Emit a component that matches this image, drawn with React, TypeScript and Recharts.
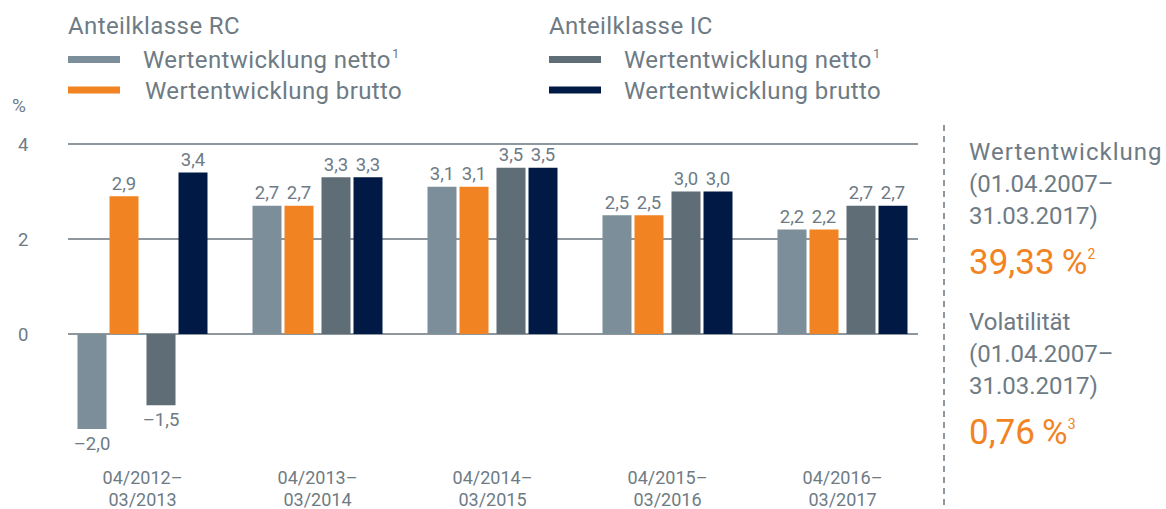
import React from "react";
import { BarChart, Bar, XAxis, YAxis, CartesianGrid } from "recharts";

// Wertentwicklung je Anteilklasse, Angaben in %
const periods = [
  "04/2012–\n03/2013",
  "04/2013–\n03/2014",
  "04/2014–\n03/2015",
  "04/2015–\n03/2016",
  "04/2016–\n03/2017",
];
const rcNetto = [-2.0, 2.7, 3.1, 2.5, 2.2];
const rcBrutto = [2.9, 2.7, 3.1, 2.5, 2.2];
const icNetto = [-1.5, 3.3, 3.5, 3.0, 2.7];
const icBrutto = [3.4, 3.3, 3.5, 3.0, 2.7];
const yTicks = [0, 2, 4];

const data = periods.map((period, i) => ({
  period,
  rcNetto: rcNetto[i],
  rcBrutto: rcBrutto[i],
  icNetto: icNetto[i],
  icBrutto: icBrutto[i],
}));

const FONT = "Roboto, 'Liberation Sans', sans-serif";
const WEIGHT = 400;
const TEXT = "#6e7b84";
const GRID = "#8d979d";
const ORANGE = "#f28322";

const COLORS = {
  rcNetto: "#7b8e9a",
  rcBrutto: ORANGE,
  icNetto: "#5f6d77",
  icBrutto: "#001a45",
};

const fmt = (v: number) => (v < 0 ? "–" : "") + Math.abs(v).toFixed(1).replace(".", ",");

// bar + value label; pairs are nudged apart a little like in the print version
function makeShape(key: string, fill: string, shift: number) {
  return (props: any) => {
    const { x, y, width, height, payload } = props;
    const v = payload[key];
    const top = height < 0 ? y + height : y;
    const h = Math.abs(height);
    const bx = x + shift;
    const ly = v >= 0 ? top - 13 : top + h + 14;
    return (
      <g>
        <rect x={bx} y={top} width={width} height={h} fill={fill} />
        <text
          x={bx + width / 2}
          y={ly}
          dy="0.355em"
          textAnchor="middle"
          fontFamily={FONT}
          fontWeight={WEIGHT}
          fontSize={18.5}
          fill={TEXT}
        >
          {fmt(v)}
        </text>
      </g>
    );
  };
}

const PeriodTick = (props: any) => {
  const { x, y, payload } = props;
  const lines = String(payload.value).split("\n");
  return (
    <g>
      {lines.map((line, i) => (
        <text
          key={i}
          x={x}
          y={y + 49 + i * 22}
          dy="0.355em"
          textAnchor="middle"
          fontFamily={FONT}
          fontWeight={WEIGHT}
          fontSize={18}
          fill={TEXT}
        >
          {line}
        </text>
      ))}
    </g>
  );
};

const ValueTick = (props: any) => {
  const { y, payload } = props;
  return (
    <text x={18} y={y} dy="0.355em" fontFamily={FONT} fontWeight={WEIGHT} fontSize={18.5} fill={TEXT}>
      {payload.value}
    </text>
  );
};

const GridLine = (props: any) => (
  <line
    key={props.key}
    x1={props.x1 + 13}
    x2={props.x2 - 12}
    y1={props.y1}
    y2={props.y2}
    stroke={GRID}
    strokeWidth={2}
  />
);

function LegendBlock({ x, title, items }: { x: number; title: string; items: { color: string; label: string; sup?: string; tx: number }[] }) {
  return (
    <g>
      <text x={x} y={25} dy="0.355em" fontSize={24} letterSpacing={0.4} fill={TEXT}>
        {title}
      </text>
      {items.map((it, i) => (
        <g key={i}>
          <rect x={x} y={56 + i * 30.5} width={52} height={7} fill={it.color} />
          <text x={it.tx} y={59.5 + i * 30.5} dy="0.355em" fontSize={24} letterSpacing={0.4} fill={TEXT}>
            {it.label}
            {it.sup && (
              <tspan fontSize={13} dy="-0.8em" dx={1}>
                {it.sup}
              </tspan>
            )}
          </text>
        </g>
      ))}
    </g>
  );
}

export default function App() {
  return (
    <div style={{ position: "absolute", left: 0, top: 0, width: 1166, height: 509, background: "#fff" }}>
      <BarChart
        width={1166}
        height={509}
        data={data}
        margin={{ top: 144, right: 236, bottom: 20, left: 0 }}
        barSize={29}
        barGap={3}
      >
        <CartesianGrid vertical={false} horizontal={GridLine} horizontalValues={yTicks} />
        <XAxis
          dataKey="period"
          axisLine={false}
          tickLine={false}
          tickSize={0}
          tickMargin={0}
          height={60}
          interval={0}
          tick={PeriodTick}
        />
        <YAxis
          type="number"
          domain={[-2, 4]}
          ticks={yTicks}
          interval={0}
          width={55}
          axisLine={false}
          tickLine={false}
          tick={ValueTick}
        />
        <Bar dataKey="rcNetto" isAnimationActive={false} shape={makeShape("rcNetto", COLORS.rcNetto, -2.5)} />
        <Bar dataKey="rcBrutto" isAnimationActive={false} shape={makeShape("rcBrutto", COLORS.rcBrutto, -2.5)} />
        <Bar dataKey="icNetto" isAnimationActive={false} shape={makeShape("icNetto", COLORS.icNetto, 2.5)} />
        <Bar dataKey="icBrutto" isAnimationActive={false} shape={makeShape("icBrutto", COLORS.icBrutto, 2.5)} />
      </BarChart>

      <svg
        width={1166}
        height={509}
        style={{ position: "absolute", left: 0, top: 0, pointerEvents: "none" }}
        fontFamily={FONT}
        fontWeight={WEIGHT}
      >
        <LegendBlock
          x={68}
          title="Anteilklasse RC"
          items={[
            { color: COLORS.rcNetto, label: "Wertentwicklung netto", sup: "1", tx: 143 },
            { color: COLORS.rcBrutto, label: "Wertentwicklung brutto", tx: 145 },
          ]}
        />
        <LegendBlock
          x={549}
          title="Anteilklasse IC"
          items={[
            { color: COLORS.icNetto, label: "Wertentwicklung netto", sup: "1", tx: 624 },
            { color: COLORS.icBrutto, label: "Wertentwicklung brutto", tx: 624 },
          ]}
        />
        <text x={12} y={105} dy="0.355em" fontSize={19} fill={TEXT}>
          %
        </text>

        <line x1={944} x2={944} y1={125} y2={509} stroke={GRID} strokeWidth={2} strokeDasharray="6 5" />

        <g fontSize={24} fill={TEXT}>
          <text x={969} y={151} dy="0.355em" letterSpacing={1}>Wertentwicklung</text>
          <text x={969} y={183} dy="0.355em">(01.04.2007–</text>
          <text x={969} y={215} dy="0.355em">31.03.2017)</text>
          <text x={969} y={321} dy="0.355em">Volatilität</text>
          <text x={969} y={353} dy="0.355em">(01.04.2007–</text>
          <text x={969} y={385} dy="0.355em">31.03.2017)</text>
        </g>
        <text x={969} y={262} dy="0.355em" fontSize={35} fill={ORANGE}>
          39,33{"\u2009"}%
          <tspan fontSize={14} dy="-1.1em">2</tspan>
        </text>
        <text x={969} y={432} dy="0.355em" fontSize={35} fill={ORANGE}>
          0,76{"\u2009"}%
          <tspan fontSize={14} dy="-1.1em">3</tspan>
        </text>
      </svg>
    </div>
  );
}
